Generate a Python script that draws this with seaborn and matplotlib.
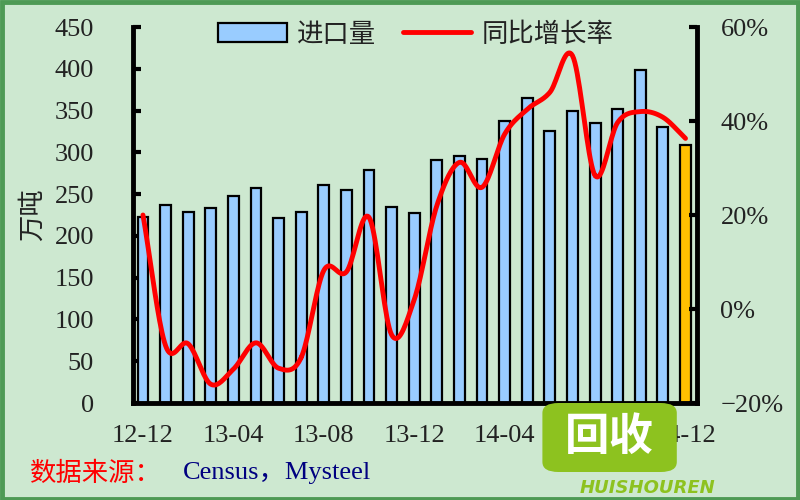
import matplotlib
matplotlib.use('Agg')
from matplotlib import pyplot as plt
from matplotlib.patches import Rectangle, FancyBboxPatch, Patch
from matplotlib.lines import Line2D
from matplotlib.ticker import FuncFormatter, FixedLocator
import seaborn as sns
import numpy as np
import pandas as pd

# 数据
months = ['12-12', '13-01', '13-02', '13-03', '13-04', '13-05', '13-06', '13-07', '13-08',
          '13-09', '13-10', '13-11', '13-12', '14-01', '14-02', '14-03', '14-04', '14-05',
          '14-06', '14-07', '14-08', '14-09', '14-10', '14-11', '14-12']
imports = [223, 237, 228, 233, 248, 257, 222, 228, 261, 255, 279, 234, 227,
           291, 296, 292, 337, 365, 325, 349, 335, 352, 398, 330, 309]
yoy = [20, -7.8, -7.4, -16, -12.8, -7.2, -12.6, -10.3, 8.2, 7.9, 19.5, -5.5, 2,
       22, 31.2, 25.9, 37.2, 42.5, 46.1, 53.9, 28.4, 39.7, 42, 40.8, 36.3]
tick_labels = ['12-12', '13-04', '13-08', '13-12', '14-04', '14-08', '14-12']

bg = '#CDE8D0'
bar_col = '#99CCFF'
last_col = '#FFC000'
txt_col = '#222222'
fs = 19
num_font = ['Liberation Serif', 'Noto Sans CJK SC']
cjk_font = ['Noto Sans CJK SC', 'DejaVu Sans']

sns.set_style('white')
plt.rcParams['font.family'] = num_font
plt.rcParams['axes.unicode_minus'] = True

df = pd.DataFrame({'month': months, 'imports': imports, 'yoy': yoy})
colors = [bar_col] * (len(months) - 1) + [last_col]

fig = plt.figure(figsize=(8, 5), dpi=100, facecolor=bg)
ax = fig.add_axes([0.166, 0.194, 0.705, 0.752])
ax.set_facecolor(bg)

sns.barplot(data=df, x='month', y='imports', hue='month', palette=colors, legend=False,
            saturation=1, width=0.48, edgecolor='black', linewidth=1.6, ax=ax, zorder=2)

ax.set_xlim(-0.45, len(months) - 0.5)
ax.set_ylim(0, 450)
ax.set_yticks(range(0, 451, 50))
ax.set_xticks([months.index(t) for t in tick_labels])
ax.set_xticklabels(tick_labels)
ax.xaxis.set_minor_locator(FixedLocator(np.arange(0.5, len(months) - 1, 1)))
ax.tick_params(axis='x', which='major', length=0, pad=16, labelsize=fs, colors=txt_col)
ax.tick_params(axis='x', which='minor', direction='in', length=4, width=5, color='black')
ax.tick_params(axis='y', direction='in', length=6, width=3, color='black', pad=28,
               labelsize=fs, labelcolor=txt_col, left=True)
ax.set_xlabel('')
ax.set_ylabel('万吨', fontsize=fs, family=cjk_font, color=txt_col, labelpad=6)
for s in ['top', 'right']:
    ax.spines[s].set_visible(False)
for s in ['left', 'bottom']:
    ax.spines[s].set_linewidth(3.5)
    ax.spines[s].set_color('black')

# 平滑曲线（Catmull-Rom）
ax2 = ax.twinx()
xs = np.arange(len(yoy), dtype=float)
ys = np.array(yoy, dtype=float)
px = np.concatenate([[2 * xs[0] - xs[1]], xs, [2 * xs[-1] - xs[-2]]])
py = np.concatenate([[2 * ys[0] - ys[1]], ys, [2 * ys[-1] - ys[-2]]])
cx, cy = [], []
t = np.linspace(0, 1, 20)
for i in range(1, len(px) - 2):
    for arr, out in ((px, cx), (py, cy)):
        p0, p1, p2, p3 = arr[i - 1], arr[i], arr[i + 1], arr[i + 2]
        seg = 0.5 * ((2 * p1) + (-p0 + p2) * t + (2 * p0 - 5 * p1 + 4 * p2 - p3) * t ** 2
                     + (-p0 + 3 * p1 - 3 * p2 + p3) * t ** 3)
        out.extend(seg)
ax2.plot(cx, cy, color='red', linewidth=3.5, solid_capstyle='round', zorder=3)
ax2.set_ylim(-20, 60)
ax2.set_yticks([-20, 0, 20, 40, 60])
ax2.yaxis.set_major_formatter(FuncFormatter(lambda v, p: f'{v:.0f}%'.replace('-', '\u2212')))
ax2.tick_params(axis='y', direction='in', length=6, width=3, color='black', pad=17,
                labelsize=fs, labelcolor=txt_col)
for s in ['top', 'left', 'bottom']:
    ax2.spines[s].set_visible(False)
ax2.spines['right'].set_linewidth(3.5)
ax2.spines['right'].set_color('black')
ax2.set_xlim(-0.45, len(months) - 0.5)

# 图例
handles = [Patch(facecolor=bar_col, edgecolor='black', linewidth=1.6),
           Line2D([0], [0], color='red', linewidth=3.5)]
leg = fig.legend(handles, ['进口量', '同比增长率'], loc='center', bbox_to_anchor=(0.52, 0.932),
                 ncol=2, frameon=False, handlelength=2.6, handleheight=0.7, columnspacing=1.0,
                 handletextpad=0.4, prop={'family': cjk_font, 'size': fs})
for txt in leg.get_texts():
    txt.set_color(txt_col)

# 数据来源
fig.text(0.037, 0.054, '数据来源：', color='red', fontsize=fs, family=cjk_font, va='center')
fig.text(0.228, 0.054, 'Census，Mysteel', color='#000080', fontsize=fs,
         family=['Liberation Serif', 'Noto Sans CJK SC'], va='center')

# 水印
wm = FancyBboxPatch((0.682, 0.06), 0.16, 0.13, boxstyle='round,pad=0.004,rounding_size=0.02',
                    transform=fig.transFigure, facecolor='#8DC21F', edgecolor='none', zorder=5)
fig.patches.append(wm)
fig.text(0.762, 0.127, '回收', color='white', fontsize=32, fontweight='bold', family=cjk_font,
         ha='center', va='center', zorder=6)
fig.text(0.81, 0.024, 'HUISHOUREN', color='#8DC21F', fontsize=13, fontweight='bold',
         style='italic', family=['DejaVu Sans'], ha='center', va='center', zorder=6)

# 外框
fig.patches.append(Rectangle((0.002, 0.003), 0.996, 0.994, transform=fig.transFigure,
                             fill=False, edgecolor='#4E9A55', linewidth=3.5))

fig.savefig('out.png', dpi=100, facecolor=bg)
